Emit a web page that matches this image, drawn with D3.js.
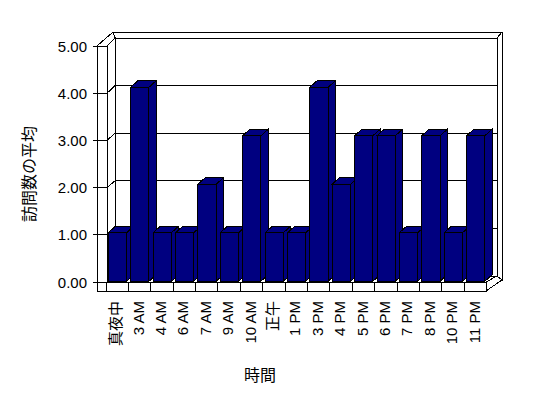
<!DOCTYPE html>
<html>
<head>
<meta charset="utf-8">
<script src="https://cdn.jsdelivr.net/npm/d3@7"></script>
<style>
	body { margin: 0; background: #fff; }
	text { font-family: "Liberation Sans", "Noto Sans CJK JP", sans-serif; fill: #000; }
</style>
</head>
<body>
<script>
var width = 548
var height = 398

var hours = ['真夜中', '3 AM', '4 AM', '6 AM', '7 AM', '9 AM', '10 AM', '正午', '1 PM',
			'3 PM', '4 PM', '5 PM', '6 PM', '7 PM', '8 PM', '10 PM', '11 PM']
var visits = [1, 4, 1, 1, 2, 1, 3, 1, 1, 4, 2, 3, 3, 1, 3, 1, 3]
var yTicks = [0, 1, 2, 3, 4, 5]
var yTitle = '訪問数の平均'
var xTitle = '時間'

var svg = d3.select('body')
			.append('svg')
			.attr('width', width)
			.attr('height', height)
			.attr('shape-rendering', 'crispEdges')

// front plane, back wall plane, and the plane the bars sit in
var x = d3.scaleBand().domain(hours).range([106, 486.7])
var yFront = d3.scaleLinear().domain([0, 5]).range([282, 46])
var yBack = d3.scaleLinear().domain([0, 5]).range([276, 38])
var yBar = d3.scaleLinear().domain([0, 5]).range([281.2, 38.7])

var dx = 7.3, dy = -6.5   // bar depth
var barW = 18.3

function poly(pts, fill) {
	return svg.append('polygon')
		.attr('points', pts.map(function(p){ return p.join(',') }).join(' '))
		.attr('fill', fill)
		.attr('stroke', '#000')
		.attr('stroke-width', 1)
}
function line(x1, y1, x2, y2) {
	svg.append('line')
		.attr('x1', x1).attr('y1', y1)
		.attr('x2', x2).attr('y2', y2)
		.attr('stroke', '#000')
}

// back wall (with its thickness)
poly([[113, 32], [502, 32], [502, 280], [497, 276], [497, 38], [115, 38]], '#fff')
poly([[115, 38], [497, 38], [497, 276], [115, 276]], '#fff')
line(497, 38, 502, 32)

// gridlines on back wall
svg.selectAll('.grid')
	.data(yTicks.slice(1, 5))
	.enter()
	.append('line')
	.attr('x1', 115).attr('x2', 497)
	.attr('y1', function(d){ return yBack(d) })
	.attr('y2', function(d){ return yBack(d) })
	.attr('stroke', '#000')

// left wall
poly([[97, 46], [113, 32], [115, 38], [107, 46]], '#fff')
poly([[107, 46], [115, 38], [115, 276], [107, 282]], '#fff')
poly([[97, 46], [107, 46], [107, 282], [97, 282]], '#fff')

yTicks.slice(1, 5).forEach(function(v) {
	line(93, yFront(v), 107, yFront(v))
	line(107, yFront(v), 115, yBack(v))
})
line(93, yFront(0), 97, yFront(0))
line(93, yFront(5), 97, yFront(5))

// floor
poly([[107, 282], [115, 276], [497, 276], [486, 282]], '#fff')
poly([[486, 282], [497, 276], [502, 280], [486, 291]], '#fff')
poly([[97, 282], [486, 282], [486, 291], [97, 291]], '#fff')

svg.selectAll('.div')
	.data(hours.slice(1))
	.enter()
	.append('line')
	.attr('x1', function(d){ return x(d) })
	.attr('x2', function(d){ return x(d) })
	.attr('y1', 282).attr('y2', 291)
	.attr('stroke', '#000')
line(106, 282, 106, 291)

// bars
var bars = svg.selectAll('.bar')
			.data(visits)
			.enter()
			.append('g')

bars.each(function(v, i) {
	var g = d3.select(this)
	var x0 = x(hours[i]) + 2.3
	var x1 = x0 + barW
	var yt = yBar(v)
	var yb = yBar(0)
	var pts = [
		[[x1, yt], [x1 + dx, yt + dy], [x1 + dx, yb + dy], [x1, yb]],
		[[x0, yt], [x0 + dx, yt + dy], [x1 + dx, yt + dy], [x1, yt]],
		[[x0, yt], [x1, yt], [x1, yb], [x0, yb]]
	]
	pts.forEach(function(p) {
		g.append('polygon')
			.attr('points', p.map(function(q){ return q.join(',') }).join(' '))
			.attr('fill', '#000080')
			.attr('stroke', '#000')
	})
})

// y labels
svg.selectAll('.ylab')
	.data(yTicks)
	.enter()
	.append('text')
	.attr('x', 87)
	.attr('y', function(d){ return yFront(d) })
	.attr('text-anchor', 'end')
	.attr('dominant-baseline', 'central')
	.attr('font-size', 15)
	.text(function(d){ return d.toFixed(2) })

// x labels
svg.selectAll('.xlab')
	.data(hours)
	.enter()
	.append('text')
	.attr('transform', function(d){
		return 'translate(' + (x(d) + x.bandwidth() / 2 - 1.5) + ',301) rotate(-90)'
	})
	.attr('text-anchor', 'end')
	.attr('dominant-baseline', 'central')
	.attr('font-size', 15)
	.text(function(d){ return d })

svg.append('text')
	.attr('transform', 'translate(29,174) rotate(-90)')
	.attr('text-anchor', 'middle')
	.attr('dominant-baseline', 'central')
	.attr('font-size', 16)
	.text(yTitle)

svg.append('text')
	.attr('x', 260)
	.attr('y', 375)
	.attr('text-anchor', 'middle')
	.attr('dominant-baseline', 'central')
	.attr('font-size', 16)
	.text(xTitle)
</script>
</body>
</html>
